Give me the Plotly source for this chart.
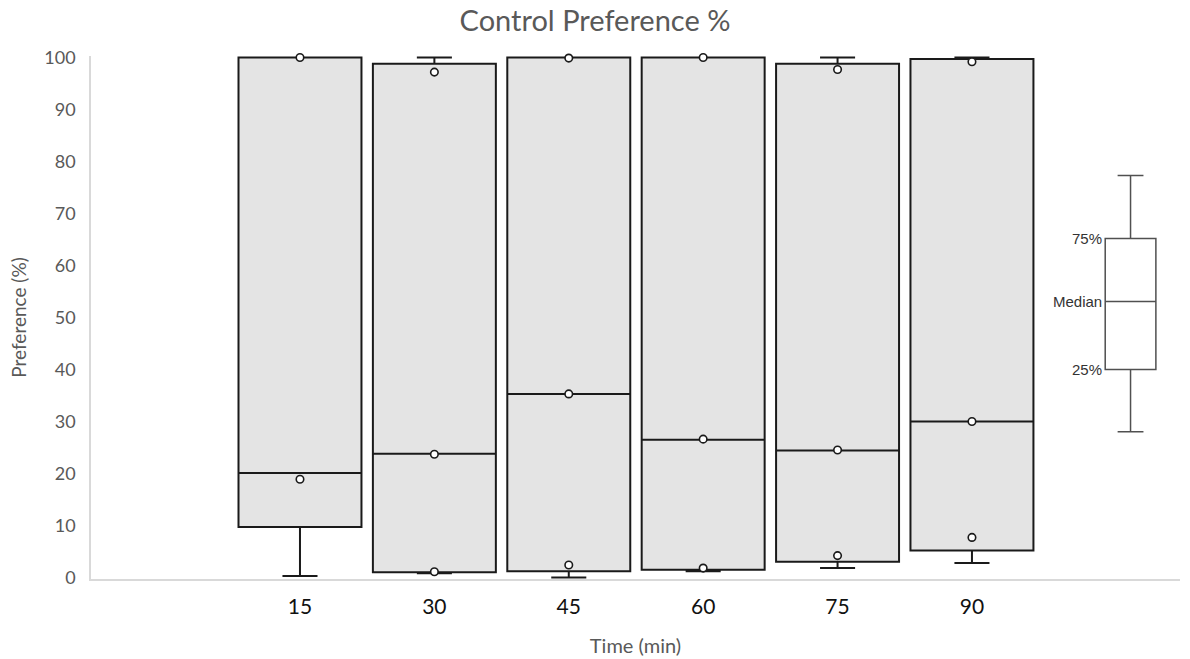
import plotly.graph_objects as go

# ---- data ----
times = ["15", "30", "45", "60", "75", "90"]
positions = [1, 2, 3, 4, 5, 6]
q1 = [9.7, 1.0, 1.2, 1.5, 3.0, 5.2]
median = [20.1, 23.8, 35.3, 26.5, 24.4, 30.0]
q3 = [100.0, 98.8, 100.0, 100.0, 98.8, 99.7]
lower_fence = [0.3, 0.8, 0.0, 1.2, 1.8, 2.8]
upper_fence = [100.0, 100.0, 100.0, 100.0, 100.0, 100.0]

# circle markers (per group)
pt_x = [1, 1, 2, 2, 2, 3, 3, 3, 4, 4, 4, 5, 5, 5, 6, 6, 6]
pt_y = [100.0, 18.9, 97.2, 23.7, 1.1, 99.9, 35.3, 2.4, 100.0, 26.6, 1.8,
        97.7, 24.5, 4.2, 99.2, 30.0, 7.7]

# key (explanatory box drawn at the right)
key_pos = 7.18
key_stats = dict(lower=28.0, q1=40.0, median=53.1, q3=65.2, upper=77.3)
key_labels = ["75%", "Median", "25%"]

fig = go.Figure()

fig.add_trace(go.Box(
    x=positions, q1=q1, median=median, q3=q3,
    lowerfence=lower_fence, upperfence=upper_fence,
    width=0.915, whiskerwidth=0.285,
    fillcolor="#e4e4e4", line=dict(color="#1a1a1a", width=2),
    boxpoints=False, hoverinfo="skip", showlegend=False,
))

fig.add_trace(go.Scatter(
    x=pt_x, y=pt_y, mode="markers", cliponaxis=False,
    marker=dict(symbol="circle", size=7.5, color="white",
                line=dict(color="#1a1a1a", width=1.6)),
    showlegend=False, hoverinfo="skip",
))

fig.add_trace(go.Box(
    x=[key_pos], q1=[key_stats["q1"]], median=[key_stats["median"]],
    q3=[key_stats["q3"]], lowerfence=[key_stats["lower"]],
    upperfence=[key_stats["upper"]],
    width=0.377, whiskerwidth=0.51,
    fillcolor="white", line=dict(color="#505050", width=1.5),
    boxpoints=False, hoverinfo="skip", showlegend=False,
))

for lab, yv in zip(key_labels, [key_stats["q3"], key_stats["median"], key_stats["q1"]]):
    fig.add_annotation(x=key_pos - 0.2, y=yv, text=lab, showarrow=False,
                       xanchor="right", yanchor="middle",
                       font=dict(family="Liberation Sans, Arial", size=15, color="#333333"))

W, H = 1190, 659
fig.update_layout(
    width=W, height=H,
    margin=dict(l=91, r=10, t=56, b=80),
    paper_bgcolor="white", plot_bgcolor="white",
    font=dict(family="Lato, Open Sans, sans-serif"),
    title=dict(text="Control Preference %", x=595 / W, xanchor="center",
               y=1 - 21 / H, yanchor="middle", automargin=False,
               font=dict(family="Lato, Open Sans, sans-serif", size=29, color="#595959")),
    showlegend=False,
)

fig.update_xaxes(
    range=[-0.555, 7.548], tickmode="array", tickvals=positions, ticktext=times,
    showgrid=False, zeroline=False, showline=True, linecolor="#d9d9d9", linewidth=2,
    ticks="", ticklabelstandoff=8, automargin=False,
    tickfont=dict(family="Lato, Open Sans, sans-serif", size=21, color="#111111"),
    title=dict(text="Time (min)", standoff=22,
               font=dict(family="Lato, Open Sans, sans-serif", size=20, color="#595959")),
)

fig.update_yaxes(
    range=[-0.3, 100.3], tickmode="array", tickvals=list(range(0, 101, 10)),
    showgrid=False, zeroline=False, showline=True, linecolor="#d9d9d9", linewidth=1.5,
    ticks="", ticklabelstandoff=10, automargin=False,
    tickfont=dict(family="Lato, Open Sans, sans-serif", size=18, color="#595959"),
    title=dict(text="Preference (%)", standoff=13,
               font=dict(family="Lato, Open Sans, sans-serif", size=19, color="#595959")),
)

fig.write_html("out.html",
               config={"displayModeBar": False},
               post_script="document.body.style.margin='0';document.body.style.overflow='hidden';")
